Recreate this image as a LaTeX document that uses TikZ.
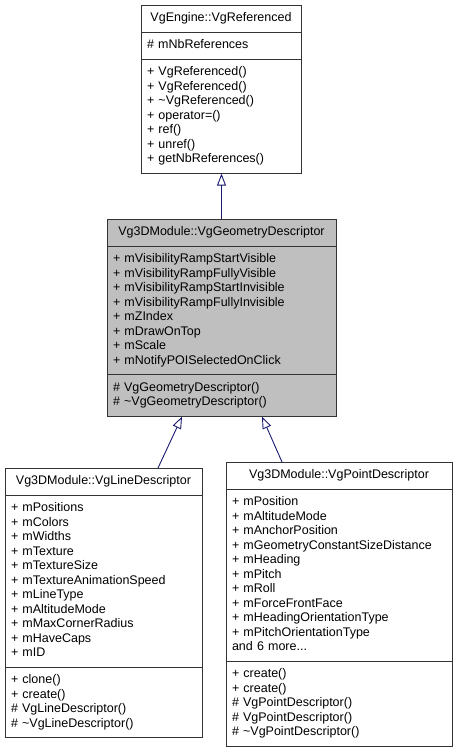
\documentclass[tikz,border=0pt]{standalone}
\usepackage{fontspec}
\setmainfont{Liberation Sans}
\usetikzlibrary{shapes.multipart,arrows.meta}
\definecolor{edgeblue}{HTML}{191970}
\definecolor{hlgray}{HTML}{BFBFBF}
\newcommand{\classtitle}[1]{\makebox[\hsize][c]{\strut#1\strut}}

\begin{document}
\begin{tikzpicture}[x=1pt,y=-1pt,
  classbox/.style={draw=black!80,line width=0.9pt,rectangle split,rectangle split parts=3,
    anchor=north,align=left,inner xsep=6pt,inner ysep=5.75pt,
    font=\fontsize{12.5}{14.5}\selectfont},
  inherit/.style={edgeblue,line width=0.9pt,-{Triangle[open,length=12pt,width=9pt]}}]
  \useasboundingbox (0,0) rectangle (459,749);
  \node[classbox,text width=148pt] (ref) at (221,5) {\classtitle{VgEngine::VgReferenced}
    \nodepart{second}\strut\# mNbReferences\strut
    \nodepart{third}\strut+ VgReferenced()\\+ VgReferenced()\\+ \textasciitilde VgReferenced()\\
      + operator=()\\+ ref()\\+ unref()\\+ getNbReferences()\strut};
  \node[classbox,fill=hlgray,text width=217pt] (geom) at (221.5,219) {\classtitle{Vg3DModule::VgGeometryDescriptor}
    \nodepart{second}\strut+ mVisibilityRampStartVisible\\+ mVisibilityRampFullyVisible\\
      + mVisibilityRampStartInvisible\\+ mVisibilityRampFullyInvisible\\+ mZIndex\\
      + mDrawOnTop\\+ mScale\\+ mNotifyPOISelectedOnClick\strut
    \nodepart{third}\strut\# VgGeometryDescriptor()\\\# \textasciitilde VgGeometryDescriptor()\strut};
  \node[classbox,text width=185pt] (line) at (103.5,468) {\classtitle{Vg3DModule::VgLineDescriptor}
    \nodepart{second}\strut+ mPositions\\+ mColors\\+ mWidths\\+ mTexture\\+ mTextureSize\\
      + mTextureAnimationSpeed\\+ mLineType\\+ mAltitudeMode\\+ mMaxCornerRadius\\
      + mHaveCaps\\+ mID\strut
    \nodepart{third}\strut+ clone()\\+ create()\\\# VgLineDescriptor()\\\# \textasciitilde VgLineDescriptor()\strut};
  \node[classbox,text width=214pt] (point) at (339,462) {\classtitle{Vg3DModule::VgPointDescriptor}
    \nodepart{second}\strut+ mPosition\\+ mAltitudeMode\\+ mAnchorPosition\\
      + mGeometryConstantSizeDistance\\+ mHeading\\+ mPitch\\+ mRoll\\+ mForceFrontFace\\
      + mHeadingOrientationType\\+ mPitchOrientationType\\and 6 more...\strut
    \nodepart{third}\strut+ create()\\+ create()\\\# VgPointDescriptor()\\\# VgPointDescriptor()\\
      \# \textasciitilde VgPointDescriptor()\strut};
  \draw[inherit] (geom.north) -- (geom.north |- ref.south);
  \draw[inherit] ([xshift=54.5pt]line.north) -- ([xshift=-39.5pt]geom.south);
  \draw[inherit] ([xshift=-57pt]point.north) -- ([xshift=40.5pt]geom.south);
\end{tikzpicture}
\end{document}
